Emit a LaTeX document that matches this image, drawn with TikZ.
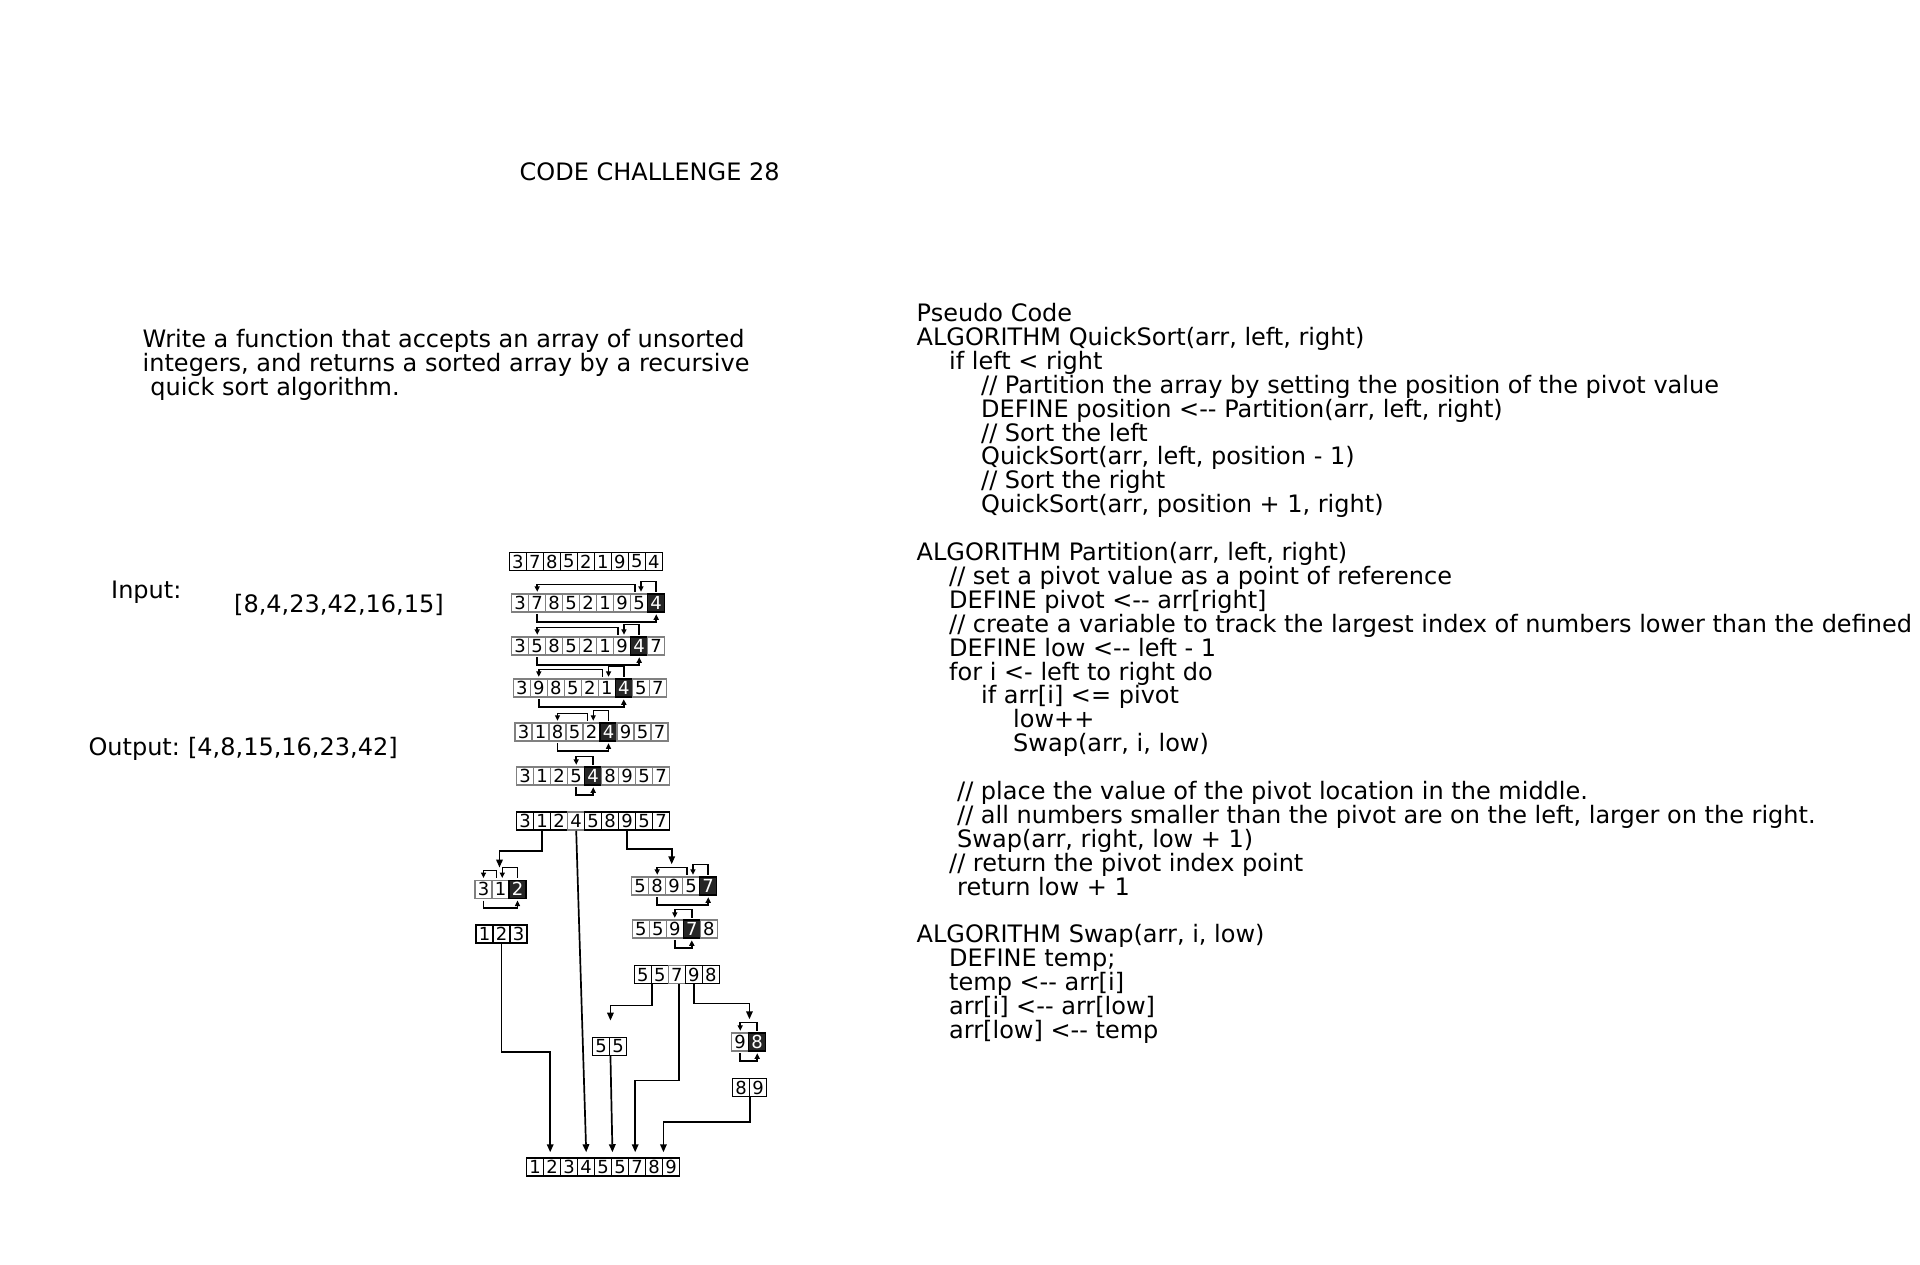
\documentclass[tikz,border=0pt]{standalone}
\usepackage{fontspec}
\setmainfont{DejaVu Sans}
\usetikzlibrary{arrows.meta,calc}

% one row of array cells: name, left x, centre y, list of digit/style
\newcommand\qsrow[4]{%
  \foreach \d/\s [count=\i] in {#4} {\node[\s] (#1-\i) at ({#2+(\i-0.5)*17},#3) {\d};}%
}
% partition moves: row, first moved cell, cell next to pivot, pivot
\newcommand\pbr[4]{%
  \draw[brk,->] ($(#1-#3.north west)+(5,-1.5)$) |- ($(#1-#2.north)+(0,-9)$) -- ($(#1-#2.north)+(0,-1.5)$);
  \draw[brk,<-] ($(#1-#3.north west)+(11,-1.5)$) |- ($(#1-#4.north)+(0,-12)$) -- ($(#1-#4.north)+(0,-1.5)$);
  \draw[brk,->] ($(#1-#2.south)+(0,1.5)$) |- ($(#1-#4.south)+(0,9)$) -- ($(#1-#4.south)+(0,1.5)$);
}
% single swap of two neighbouring cells: row, cell, pivot
\newcommand\sbr[3]{%
  \draw[brk,->] ($(#1-#3.north)+(0,-1.5)$) |- ($(#1-#2.north)+(0,-10)$) -- ($(#1-#2.north)+(0,-1.5)$);
  \draw[brk,->] ($(#1-#2.south)+(0,1.5)$) |- ($(#1-#3.south)+(0,9)$) -- ($(#1-#3.south)+(0,1.5)$);
}
% one line of pseudo code: name, x, line index, text
\newcommand\codeline[4]{\node[txt] (#1) at (#2,{321.5+23.9*#3}) {#4};}

\begin{document}
\begin{tikzpicture}[x=1pt,y=-1pt,
  txt/.style={anchor=base west, inner sep=0pt, font=\fontsize{24}{24}\selectfont},
  cellbase/.style={minimum width=17pt, minimum height=18pt, inner sep=0pt,
    line width=1.5pt, font=\fontsize{18}{18}\selectfont},
  bc/.style={cellbase, draw=black},
  gc/.style={cellbase, draw=black!50},
  pv/.style={cellbase, draw=black, fill=black!85, text=white},
  conn/.style={line width=1.7pt, -{Triangle[length=8pt,width=6.5pt]}},
  brk/.style={line width=1.5pt, >={Triangle[length=5.5pt,width=5pt]}}]

\fill[white] (0,0) rectangle (1920,1264);
\useasboundingbox (0,0) rectangle (1920,1264);

% heading and task
\node[txt] (title) at (519.5,180) {CODE CHALLENGE 28};
\node[txt] (task1) at (142.5,347.5) {Write a function that accepts an array of unsorted};
\node[txt] (task2) at (142.5,371.5) {integers, and returns a sorted array by a recursive};
\node[txt] (task3) at (142.5,395.5) {\ quick sort algorithm.};

\node[txt] (inlabel) at (111,598.5) {Input:};
\node[txt] (invalue) at (234,612) {[8,4,23,42,16,15]};
\node[txt] (outlabel) at (88.3,755.5) {Output:\hspace{-2pt} [4,8,15,16,23,42]};

% pseudo code
\def\Xa{916.5}\def\Xb{949}\def\Xc{981}\def\Xd{1013}\def\Xs{957}
\codeline{c0}{\Xa}{0}{Pseudo Code}
\codeline{c1}{\Xa}{1}{ALGORITHM QuickSort(arr, left, right)}
\codeline{c2}{\Xb}{2}{if left < right}
\codeline{c3}{\Xc}{3}{// Partition the array by setting the position of the pivot value}
\codeline{c4}{\Xc}{4}{DEFINE position <-{}- Partition(arr, left, right)}
\codeline{c5}{\Xc}{5}{// Sort the left}
\codeline{c6}{\Xc}{6}{QuickSort(arr, left, position - 1)}
\codeline{c7}{\Xc}{7}{// Sort the right}
\codeline{c8}{\Xc}{8}{QuickSort(arr, position + 1, right)}
\codeline{c10}{\Xa}{10}{ALGORITHM Partition(arr, left, right)}
\codeline{c11}{\Xb}{11}{// set a pivot value as a point of reference}
\codeline{c12}{\Xb}{12}{DEFINE pivot <-{}- arr[right]}
\codeline{c13}{\Xb}{13}{// create a variable to track the largest index of numbers lower than the defined}
\codeline{c14}{\Xb}{14}{DEFINE low <-{}- left - 1}
\codeline{c15}{\Xb}{15}{for i <- left to right do}
\codeline{c16}{\Xc}{16}{if arr[i] <= pivot}
\codeline{c17}{\Xd}{17}{low++}
\codeline{c18}{\Xd}{18}{Swap(arr, i, low)}
\codeline{c20}{\Xs}{20}{// place the value of the pivot location in the middle.}
\codeline{c21}{\Xs}{21}{// all numbers smaller than the pivot are on the left, larger on the right.}
\codeline{c22}{\Xs}{22}{Swap(arr, right, low + 1)}
\codeline{c23}{\Xb}{23}{// return the pivot index point}
\codeline{c24}{\Xs}{24}{return low + 1}
\codeline{c26}{\Xa}{26}{ALGORITHM Swap(arr, i, low)}
\codeline{c27}{\Xb}{27}{DEFINE temp;}
\codeline{c28}{\Xb}{28}{temp <-{}- arr[i]}
\codeline{c29}{\Xb}{29}{arr[i] <-{}- arr[low]}
\codeline{c30}{\Xb}{30}{arr[low] <-{}- temp}

% array rows of the worked example
\qsrow{R1}{509.3}{561.5}{3/bc,7/bc,8/bc,5/bc,2/bc,1/bc,9/bc,5/bc,4/bc}
\qsrow{R2}{511.7}{603}{3/gc,7/gc,8/gc,5/gc,2/gc,1/gc,9/gc,5/gc,4/pv}
\qsrow{R3}{511.7}{646}{3/gc,5/gc,8/gc,5/gc,2/gc,1/gc,9/gc,4/pv,7/gc}
\qsrow{R4}{513.3}{688}{3/gc,9/gc,8/gc,5/gc,2/gc,1/gc,4/pv,5/gc,7/gc}
\qsrow{R5}{515}{732}{3/gc,1/gc,8/gc,5/gc,2/gc,4/pv,9/gc,5/gc,7/gc}
\qsrow{R6}{516.7}{776}{3/gc,1/gc,2/gc,5/gc,4/pv,8/gc,9/gc,5/gc,7/gc}
\qsrow{R7}{516.7}{821}{3/bc,1/bc,2/bc,4/gc,5/bc,8/bc,9/bc,5/bc,7/bc}
\qsrow{L1}{475}{889.3}{3/gc,1/gc,2/pv}
\qsrow{L2}{476}{934}{1/bc,2/bc,3/bc}
\qsrow{RA}{631.7}{886}{5/gc,8/gc,9/gc,5/gc,7/pv}
\qsrow{RB}{632.3}{929}{5/gc,5/gc,9/gc,7/pv,8/gc}
\qsrow{RC}{634.3}{974.7}{5/bc,5/bc,7/gc,9/bc,8/bc}
\qsrow{L3}{592.7}{1046.3}{5/bc,5/bc}
\qsrow{S1}{731.7}{1042}{9/gc,8/pv}
\qsrow{S2}{732.5}{1087.5}{8/bc,9/bc}
\qsrow{F}{526.7}{1167}{1/bc,2/bc,3/bc,4/bc,5/bc,5/bc,7/bc,8/bc,9/bc}

% swaps inside each partition step
\pbr{R2}{2}{8}{9}
\pbr{R3}{2}{7}{8}
\pbr{R4}{2}{6}{7}
\pbr{R5}{3}{5}{6}
\sbr{R6}{4}{5}
\pbr{L1}{1}{2}{3}
\pbr{RA}{2}{4}{5}
\sbr{RB}{3}{4}
\sbr{S1}{1}{2}

% recursion and merge connectors
\draw[conn] (R7-2.south) -- ++(0,20) -| ($(L1-2.north)+(-1,-12)$);
\draw[conn] (R7-4.south) -- ($(F-4.north)+(0,-5)$);
\draw[conn] (R7-7.south) -- ++(0,18) -| ($(RA-3.north)+(-2.5,-12)$);
\draw[conn] (L2-2.south) -- ++(0,108) -| ($(F-2.north)+(-2,-5)$);
\draw[conn] ($(RC-2.south)+(-7.5,0)$) -- ++(0,21) -| ($(L3-1.north east)+(0,-16)$);
\draw[conn] (L3-1.south east) -- ($(F-5.north east)+(0,-5)$);
\draw[conn] ($(RC-3.south)+(2,0)$) -- ++(0,96) -| ($(F-7.north)+(-2,-5)$);
\draw[conn] (RC-4.south) -- ++(0,19) -| ($(S1-1.north east)+(0,-13)$);
\draw[conn] (S2-1.south east) -- ++(0,25) -| ($(F-8.north east)+(0,-5)$);

\end{tikzpicture}
\end{document}
